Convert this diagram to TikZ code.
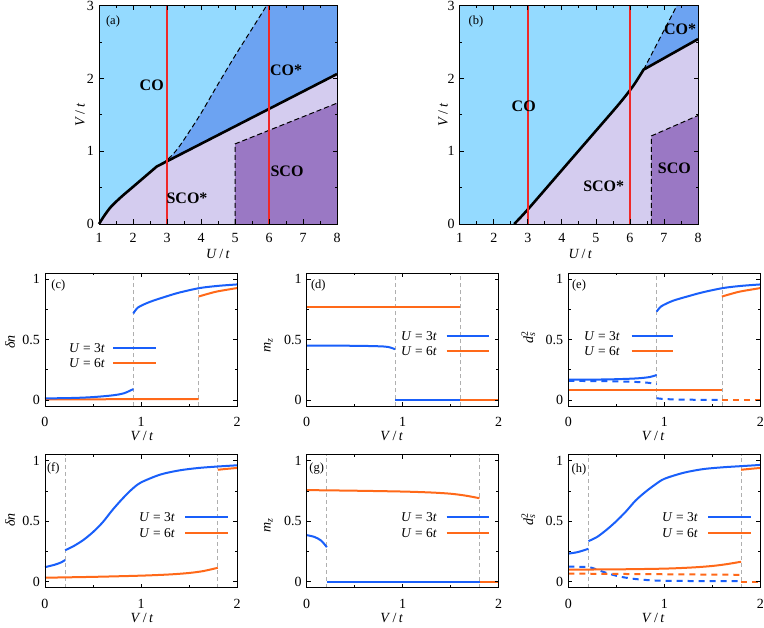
\documentclass[tikz,border=0pt]{standalone}
\usepackage{fontspec}
\setmainfont{Liberation Serif}
\definecolor{cob}{RGB}{148,218,255}
\definecolor{costar}{RGB}{108,163,242}
\definecolor{scostar}{RGB}{212,204,239}
\definecolor{scoc}{RGB}{154,120,196}
\definecolor{redl}{RGB}{240,40,40}
\definecolor{bl}{RGB}{25,95,250}
\definecolor{orl}{RGB}{255,105,25}
\definecolor{gr}{RGB}{175,175,175}
\tikzset{
 frm/.style={line width=0.8pt, black},
 tk/.style={font=\fontsize{14}{16}\selectfont, inner sep=0pt},
 plab/.style={font=\fontsize{12.5}{14}\selectfont, inner sep=0pt},
 axl/.style={font=\fontsize{14}{16}\selectfont, inner sep=0pt},
 phl/.style={font=\fontsize{16}{18}\selectfont\bfseries, inner sep=0pt},
 bcurve/.style={line width=2pt, draw=bl},
 ocurve/.style={line width=2pt, draw=orl},
 vguide/.style={draw=gr, line width=0.8pt, dash pattern=on 4pt off 3pt},
 dcurve/.style={dash pattern=on 6pt off 5pt},
 bound/.style={line width=2.6pt, draw=black, line join=round},
 dbound/.style={line width=1pt, draw=black, dash pattern=on 5pt off 3pt},
 redv/.style={line width=1.4pt, draw=redl},
 leg/.style={font=\fontsize{13.5}{15}\selectfont, inner sep=0pt, anchor=east},
}
\newcommand{\lpframe}{%
 \draw[frm] (0,-0.05) rectangle (2,1.05);
 \foreach \xx in {0,1,2}{\draw[frm] (\xx,-0.05) -- ++(0,4pt) (\xx,1.05) -- ++(0,-4pt);
   \node[tk,anchor=north,yshift=-11pt] at (\xx,-0.05) {\xx};}
 \foreach \xx in {0.5,1.5}{\draw[frm] (\xx,-0.05) -- ++(0,2.5pt) (\xx,1.05) -- ++(0,-2.5pt);}
 \foreach \yy in {0,0.5,1}{\draw[frm] (0,\yy) -- ++(4pt,0) (2,\yy) -- ++(-4pt,0);
   \node[tk,anchor=east,xshift=-5pt] at (0,\yy) {\yy};}
 \foreach \yy in {0.25,0.75}{\draw[frm] (0,\yy) -- ++(2.5pt,0) (2,\yy) -- ++(-2.5pt,0);}
}
\newcommand{\phframe}{%
 \draw[frm] (1,0) rectangle (8,3);
 \foreach \xx in {1,...,8}{\draw[frm] (\xx,0) -- ++(0,4.5pt) (\xx,3) -- ++(0,-4.5pt);
   \node[tk,anchor=north,yshift=-9pt] at (\xx,0) {\xx};}
 \foreach \xx in {1.5,2.5,3.5,4.5,5.5,6.5,7.5}{\draw[frm] (\xx,0) -- ++(0,2.5pt) (\xx,3) -- ++(0,-2.5pt);}
 \foreach \yy in {0,1,2,3}{\draw[frm] (1,\yy) -- ++(4.5pt,0) (8,\yy) -- ++(-4.5pt,0);
   \node[tk,anchor=east,xshift=-5pt] at (1,\yy) {\yy};}
 \foreach \yy in {0.5,1.5,2.5}{\draw[frm] (1,\yy) -- ++(2.5pt,0) (8,\yy) -- ++(-2.5pt,0);}
}
\newcommand{\Vt}{\textit{V}\,/\,\textit{t}}
\newcommand{\Ut}{\textit{U}\,/\,\textit{t}}
\newcommand{\dsq}{\textit{d}\rlap{\textsuperscript{2}}\textsubscript{\textit{s}}}
\newcommand{\mzl}{\textit{m}\textsubscript{\textit{z}}}
\begin{document}
\begin{tikzpicture}[x=1pt,y=1pt]
\useasboundingbox (0,0) rectangle (764,-628);
\fill[white] (0,0) rectangle (764,-628);

% ---------- (a) ----------
\begin{scope}[xshift=65pt,yshift=-224pt,x=34pt,y=72.8pt]
 \fill[cob] (1,0) rectangle (8,3);
 \fill[scostar] plot[smooth] coordinates {(1,0) (1.15,0.11) (1.35,0.235) (1.65,0.37) (2.0,0.51) (2.4,0.67) (2.7,0.79)} -- (8,2.06) -- (8,0) -- cycle;
 \fill[costar] plot[smooth] coordinates {(2.85,0.826) (3.0,0.88) (3.2,0.97) (3.4,1.09) (3.7,1.3) (4.0,1.52) (4.5,1.92) (5.0,2.31) (5.5,2.68) (5.93,3.0)} -- (8,3) -- (8,2.06) -- cycle;
 \fill[scoc] (5,0) -- (5,1.1) -- (8,1.66) -- (8,0) -- cycle;
 \draw[dbound] plot[smooth] coordinates {(2.85,0.826) (3.0,0.88) (3.2,0.97) (3.4,1.09) (3.7,1.3) (4.0,1.52) (4.5,1.92) (5.0,2.31) (5.5,2.68) (5.93,3.0)};
 \draw[dbound] (5,0) -- (5,1.1) -- (8,1.66);
 \draw[bound] plot[smooth] coordinates {(1,0) (1.15,0.11) (1.35,0.235) (1.65,0.37) (2.0,0.51) (2.4,0.67) (2.7,0.79)} -- (8,2.06);
 \draw[redv] (3,0) -- (3,3) (6,0) -- (6,3);
 \phframe
\end{scope}
\node[plab] (la) at (113,-21) {(a)};
\node[phl] (coa) at (151.7,-85) {CO};
\node[phl] (costa) at (286,-70) {CO*};
\node[phl] (scosta) at (187,-198.3) {SCO*};
\node[phl] (scoa) at (287,-171.7) {SCO};
\node[axl,rotate=90] (ya) at (80,-115) {\Vt};
\node[axl] (xa) at (218,-254) {\Ut};

% ---------- (b) ----------
\begin{scope}[xshift=425.7pt,yshift=-224pt,x=34.04pt,y=72.8pt]
 \fill[cob] (1,0) rectangle (8,3);
 \fill[scostar] plot[smooth] coordinates {(2.6,0) (3.0,0.2) (4,0.74) (5,1.28) (5.7,1.66) (6.1,1.9) (6.4,2.12)} -- (8,2.54) -- (8,0) -- cycle;
 \fill[costar] (6.4,2.12) -- (7.38,3) -- (8,3) -- (8,2.54) -- cycle;
 \fill[scoc] (6.63,0) -- (6.63,1.21) -- (8,1.49) -- (8,0) -- cycle;
 \draw[dbound] (6.4,2.12) -- (7.38,3);
 \draw[dbound] (6.63,0) -- (6.63,1.21) -- (8,1.49);
 \draw[bound] plot[smooth] coordinates {(2.6,0) (3.0,0.2) (4,0.74) (5,1.28) (5.7,1.66) (6.1,1.9) (6.4,2.12)} -- (8,2.54);
 \draw[redv] (3,0) -- (3,3) (6,0) -- (6,3);
 \phframe
\end{scope}
\node[plab] (lb) at (476,-21) {(b)};
\node[phl] (cob) at (523.7,-106.7) {CO};
\node[phl] (costb) at (680,-29.3) {CO*};
\node[phl] (scostb) at (603.7,-186.7) {SCO*};
\node[phl] (scob) at (674.3,-168.3) {SCO};
\node[axl,rotate=90] (yb) at (443,-115) {\Vt};
\node[axl] (xb) at (580.3,-254) {\Ut};

% ---------- (c) ----------
\begin{scope}[xshift=45pt,yshift=-400pt,x=96pt,y=121pt]
 \draw[vguide] (0.92,-0.05) -- (0.92,1.05) (1.6,-0.05) -- (1.6,1.05);
 \draw[ocurve] (0,0.005) -- (1.6,0.008);
 \draw[ocurve] plot[smooth] coordinates {(1.6,0.855) (1.7,0.878) (1.8,0.898) (2,0.925)};
 \draw[bcurve] plot[smooth] coordinates {(0,0.013) (0.3,0.017) (0.5,0.024) (0.7,0.038) (0.82,0.055) (0.92,0.09)};
 \draw[bcurve] plot[smooth] coordinates {(0.92,0.715) (0.97,0.765) (1.09,0.81) (1.26,0.855) (1.4,0.888) (1.61,0.925) (1.8,0.943) (2,0.955)};
 \lpframe
\end{scope}
\node[plab] (lc) at (58.3,-285) {(c)};
\node[axl,rotate=90] (yc) at (10,-342) {\textit{δn}};
\node[axl] (xc) at (142,-436) {\Vt};
\coordinate (c1a) at (113,-347.7); \coordinate (c1b) at (156,-347.7);
\coordinate (c2a) at (113,-362.7); \coordinate (c2b) at (156,-362.7);
\draw[bcurve] (c1a) -- (c1b); \draw[ocurve] (c2a) -- (c2b);
\node[leg] (tc1) at (105,-347.7) {\textit{U} = 3\textit{t}};
\node[leg] (tc2) at (105,-362.7) {\textit{U} = 6\textit{t}};

% ---------- (d) ----------
\begin{scope}[xshift=306.7pt,yshift=-400pt,x=96pt,y=121pt]
 \draw[vguide] (0.92,-0.05) -- (0.92,1.05) (1.6,-0.05) -- (1.6,1.05);
 \draw[bcurve] (0.92,0) -- (2,0);
 \draw[ocurve] (0,0.765) -- (1.6,0.765);
 \draw[ocurve] (1.6,0) -- (2,0);
 \draw[bcurve] plot[smooth] coordinates {(0,0.45) (0.5,0.448) (0.75,0.444) (0.85,0.438) (0.92,0.42)};
 \lpframe
\end{scope}
\node[plab] (ld) at (318.3,-285) {(d)};
\node[axl,rotate=90] (yd) at (268.3,-345) {\mzl};
\node[axl] (xd) at (391.7,-436) {\Vt};
\coordinate (d1a) at (446.7,-335.7); \coordinate (d1b) at (489,-335.7);
\coordinate (d2a) at (446.7,-351); \coordinate (d2b) at (489,-351);
\draw[bcurve] (d1a) -- (d1b); \draw[ocurve] (d2a) -- (d2b);
\node[leg] (td1) at (437,-335.7) {\textit{U} = 3\textit{t}};
\node[leg] (td2) at (437,-351) {\textit{U} = 6\textit{t}};

% ---------- (e) ----------
\begin{scope}[xshift=568.3pt,yshift=-400pt,x=96pt,y=121pt]
 \draw[vguide] (0.92,-0.05) -- (0.92,1.05) (1.6,-0.05) -- (1.6,1.05);
 \draw[bcurve,dcurve] plot[smooth] coordinates {(0,0.158) (0.5,0.154) (0.8,0.145) (0.92,0.13)};
 \draw[bcurve,dcurve] plot[smooth] coordinates {(0.92,0.015) (1.0,0.008) (1.2,0.003) (1.6,0.0)};
 \draw[ocurve] (0,0.085) -- (1.6,0.085);
 \draw[ocurve,dcurve] (0,0.085) -- (1.6,0.085);
 \draw[ocurve,dcurve] (1.6,0) -- (2,0);
 \draw[ocurve] plot[smooth] coordinates {(1.6,0.855) (1.7,0.878) (1.8,0.898) (2,0.925)};
 \draw[bcurve] plot[smooth] coordinates {(0,0.168) (0.4,0.17) (0.7,0.178) (0.85,0.19) (0.92,0.207)};
 \draw[bcurve] plot[smooth] coordinates {(0.92,0.73) (0.97,0.775) (1.09,0.82) (1.26,0.86) (1.4,0.89) (1.61,0.925) (1.8,0.943) (2,0.955)};
 \lpframe
\end{scope}
\node[plab] (le) at (579,-285) {(e)};
\node[axl,rotate=90] (ye) at (528.3,-338) {\dsq};
\node[axl] (xe) at (653.3,-436) {\Vt};
\coordinate (e1a) at (631.7,-335.7); \coordinate (e1b) at (673,-335.7);
\coordinate (e2a) at (631.7,-351); \coordinate (e2b) at (673,-351);
\draw[bcurve] (e1a) -- (e1b); \draw[ocurve] (e2a) -- (e2b);
\node[leg] (te1) at (620,-335.7) {\textit{U} = 3\textit{t}};
\node[leg] (te2) at (620,-351) {\textit{U} = 6\textit{t}};

% ---------- (f) ----------
\begin{scope}[xshift=45pt,yshift=-581.7pt,x=96pt,y=121pt]
 \draw[vguide] (0.21,-0.05) -- (0.21,1.05) (1.8,-0.05) -- (1.8,1.05);
 \draw[ocurve] plot[smooth] coordinates {(0,0.033) (0.5,0.04) (1.0,0.05) (1.3,0.06) (1.5,0.072) (1.65,0.088) (1.8,0.115)};
 \draw[ocurve] plot[smooth] coordinates {(1.8,0.925) (1.9,0.933) (2,0.94)};
 \draw[bcurve] plot[smooth] coordinates {(0,0.12) (0.1,0.14) (0.17,0.16) (0.21,0.18)};
 \draw[bcurve] plot[smooth] coordinates {(0.21,0.26) (0.3,0.295) (0.4,0.345) (0.5,0.41) (0.6,0.49) (0.7,0.59) (0.8,0.68) (0.9,0.76) (1.0,0.82) (1.2,0.885) (1.4,0.92) (1.6,0.94) (1.8,0.952) (2,0.962)};
 \lpframe
\end{scope}
\node[plab] (lf) at (53.3,-468.3) {(f)};
\node[axl,rotate=90] (yf) at (10,-520) {\textit{δn}};
\node[axl] (xf) at (142,-618.3) {\Vt};
\coordinate (f1a) at (185,-516.7); \coordinate (f1b) at (227.7,-516.7);
\coordinate (f2a) at (185,-533.3); \coordinate (f2b) at (227.7,-533.3);
\draw[bcurve] (f1a) -- (f1b); \draw[ocurve] (f2a) -- (f2b);
\node[leg] (tf1) at (175,-516.7) {\textit{U} = 3\textit{t}};
\node[leg] (tf2) at (175,-533.3) {\textit{U} = 6\textit{t}};

% ---------- (g) ----------
\begin{scope}[xshift=306.7pt,yshift=-581.7pt,x=96pt,y=121pt]
 \draw[vguide] (0.21,-0.05) -- (0.21,1.05) (1.8,-0.05) -- (1.8,1.05);
 \draw[bcurve] (0.21,0) -- (2,0);
 \draw[ocurve] (1.8,0) -- (2,0);
 \draw[ocurve] plot[smooth] coordinates {(0,0.757) (0.5,0.752) (1.0,0.745) (1.3,0.737) (1.5,0.727) (1.65,0.712) (1.8,0.69)};
 \draw[bcurve] plot[smooth] coordinates {(0,0.385) (0.08,0.37) (0.15,0.34) (0.21,0.285)};
 \lpframe
\end{scope}
\node[plab] (lg) at (316.7,-469) {(g)};
\node[axl,rotate=90] (yg) at (268.3,-525) {\mzl};
\node[axl] (xg) at (391.7,-618.3) {\Vt};
\coordinate (g1a) at (446.7,-517.3); \coordinate (g1b) at (489.3,-517.3);
\coordinate (g2a) at (446.7,-533.3); \coordinate (g2b) at (489.3,-533.3);
\draw[bcurve] (g1a) -- (g1b); \draw[ocurve] (g2a) -- (g2b);
\node[leg] (tg1) at (437,-517.3) {\textit{U} = 3\textit{t}};
\node[leg] (tg2) at (437,-533.3) {\textit{U} = 6\textit{t}};

% ---------- (h) ----------
\begin{scope}[xshift=568.3pt,yshift=-581.7pt,x=96pt,y=121pt]
 \draw[vguide] (0.21,-0.05) -- (0.21,1.05) (1.8,-0.05) -- (1.8,1.05);
 \draw[bcurve,dcurve] plot[smooth] coordinates {(0,0.125) (0.21,0.12) (0.3,0.1) (0.35,0.085) (0.45,0.06) (0.55,0.04) (0.7,0.022) (0.9,0.01) (1.2,0.006) (1.8,0.005)};
 \draw[ocurve,dcurve] (0,0.067) -- (1.8,0.057);
 \draw[ocurve,dcurve] (1.8,0) -- (2,0);
 \draw[ocurve] plot[smooth] coordinates {(0,0.1) (0.5,0.102) (1.0,0.108) (1.3,0.118) (1.5,0.13) (1.65,0.145) (1.8,0.165)};
 \draw[ocurve] plot[smooth] coordinates {(1.8,0.925) (1.9,0.933) (2,0.94)};
 \draw[bcurve] plot[smooth] coordinates {(0,0.232) (0.1,0.245) (0.21,0.272)};
 \draw[bcurve] plot[smooth] coordinates {(0.21,0.335) (0.3,0.37) (0.4,0.43) (0.5,0.5) (0.6,0.58) (0.7,0.67) (0.8,0.74) (0.9,0.8) (1.0,0.85) (1.2,0.9) (1.4,0.93) (1.6,0.945) (1.8,0.955) (2,0.965)};
 \lpframe
\end{scope}
\node[plab] (lh) at (579,-469) {(h)};
\node[axl,rotate=90] (yh) at (528.3,-520) {\dsq};
\node[axl] (xh) at (653.3,-618.3) {\Vt};
\coordinate (h1a) at (708.3,-516.7); \coordinate (h1b) at (751,-516.7);
\coordinate (h2a) at (708.3,-533.3); \coordinate (h2b) at (751,-533.3);
\draw[bcurve] (h1a) -- (h1b); \draw[ocurve] (h2a) -- (h2b);
\node[leg] (th1) at (698,-516.7) {\textit{U} = 3\textit{t}};
\node[leg] (th2) at (698,-533.3) {\textit{U} = 6\textit{t}};
\end{tikzpicture}
\end{document}
